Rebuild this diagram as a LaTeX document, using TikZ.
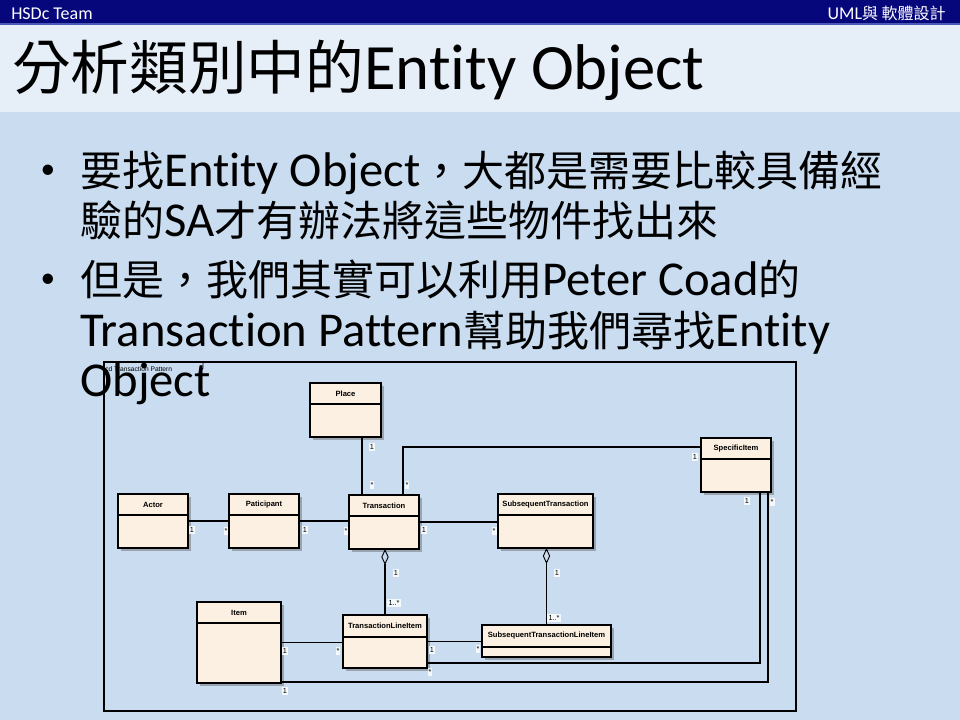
\documentclass[tikz,border=0pt]{standalone}
\usepackage{fontspec}
\setmainfont{Carlito}[Ligatures=CommonOff]
\newfontfamily\cjk{Noto Sans CJK TC}
\newfontfamily\umlfont{Liberation Sans}
\usetikzlibrary{arrows.meta}
\definecolor{bgblue}{HTML}{C9DCF0}
\definecolor{band}{HTML}{E6EFF8}
\definecolor{navy}{HTML}{07077C}
\definecolor{navyedge}{HTML}{4A5AB8}
\definecolor{cream}{HTML}{FBF0E1}
\definecolor{shadowc}{HTML}{9AA4B0}
\newcommand{\cjT}[1]{{\cjk\fontsize{44}{50}\selectfont #1}}
\newcommand{\cjB}[1]{{\cjk\fontsize{31.5}{38}\selectfont #1}}
\newcommand{\cjH}[1]{{\cjk\fontsize{12}{14}\selectfont #1}}
\tikzset{
  classbox/.style={draw=black, line width=0.9pt, fill=cream, inner sep=0pt, outer sep=0pt},
  cname/.style={font=\umlfont\bfseries\fontsize{5.7}{6}\selectfont, inner sep=0pt},
  mult/.style={font=\umlfont\fontsize{5.5}{6}\selectfont, fill=white, fill opacity=0.85, text opacity=1, inner sep=0.8pt},
  conn/.style={draw=black, line width=0.8pt},
  agg/.style={conn, -{Diamond[open, width=5.5pt, length=12pt, line width=0.7pt]}},
  bullettext/.style={font=\fontsize{36.5}{40}\selectfont, anchor=base west, inner sep=0pt},
}
% #1 name, #2 x1, #3 y1, #4 x2, #5 y2, #6 y divider, #7 label
\newcommand{\umlbox}[7]{%
  \fill[shadowc] (#2+2.5,#3+2.5) rectangle (#4+2.5,#5+2.5);
  \node[classbox, minimum width={(#4-#2)*0.75pt}, minimum height={(#5-#3)*0.75pt}]
     (#1) at ({(#2+#4)/2},{(#3+#5)/2}) {};
  \draw[line width=0.8pt] (#2,#6) -- (#4,#6);
  \node[cname] (#1-label) at ({(#2+#4)/2},{(#3+#6)/2}) {#7};
}
\begin{document}
\begin{tikzpicture}[x=0.75pt,y=-0.75pt]
\useasboundingbox (0,0) rectangle (960,720);
% background
\fill[bgblue] (0,0) rectangle (960,720);
\fill[band] (0,24) rectangle (960,112);
\fill[navy] (0,0) rectangle (960,24);
\draw[navyedge, line width=1pt] (0,24) -- (960,24);
\node[font=\fontsize{13.5}{15}\selectfont, text=white, anchor=base west, inner sep=0pt] (team) at (11,20) {HSDc Team};
\node[font=\fontsize{13.5}{15}\selectfont, text=white, anchor=base east, inner sep=0pt] (course) at (946,20) {UML\cjH{與 軟體設計}};

% UML diagram frame
\draw[line width=0.8pt] (104,362) rectangle (796,711);
\draw[line width=0.7pt] (203,362) -- (203,368) -- (200,372);
\node[font=\umlfont\fontsize{5}{6}\selectfont, anchor=west, inner sep=0pt] (frame-label) at (105,369) {cd Transaction Pattern};

% classes
\umlbox{place}{310}{383}{381}{437}{404}{Place}
\umlbox{actor}{118}{494}{188}{548}{515}{Actor}
\umlbox{part}{229}{494}{299}{548}{515}{Paticipant}
\umlbox{trans}{349}{495}{419}{549}{516}{Transaction}
\umlbox{subtr}{498}{494}{593}{548}{515}{SubsequentTransaction}
\umlbox{spec}{701}{438}{771}{492}{459}{SpecificItem}
\umlbox{item}{197}{602}{281}{683}{623}{Item}
\umlbox{tli}{343}{615}{427}{668}{637}{TransactionLineItem}
\umlbox{stli}{482}{625}{611}{657}{647}{SubsequentTransactionLineItem}

% connectors
\draw[conn] (actor.east) -- (part.west);
\draw[conn] (part.east) -- (part.east -| trans.west);
\draw[conn] (trans.east) -- (trans.east -| subtr.west);
\path (trans.north west) ++(13,0) coordinate (tp);
\draw[conn] (tp) -- (tp |- place.south);
\path (trans.north west) ++(54,0) coordinate (ts);
\path (spec.north west) ++(0,9) coordinate (sw);
\draw[conn] (ts) |- (sw);
\draw[agg] (tli.north) -- (tli.north |- trans.south);
\draw[agg] (stli.north) -- (stli.north |- subtr.south);
\draw[conn] (item.east) -- (item.east -| tli.west);
\draw[conn] (tli.east) -- (tli.east -| stli.west);
\path (tli.south east) ++(0,-5) coordinate (tl2);
\path (spec.south west) ++(59,0) coordinate (sp1);
\draw[conn] (tl2) -| (sp1);
\path (item.south east) ++(0,-1) coordinate (it2);
\path (spec.south east) ++(-3,0) coordinate (sp2);
\draw[conn] (it2) -| (sp2);

% multiplicities
\node[mult] at (192,530) {1};
\node[mult] at (226,531) {*};
\node[mult] at (305,530) {1};
\node[mult] at (346,531) {*};
\node[mult] at (372,447) {1};
\node[mult] at (372,485) {*};
\node[mult] at (407,485) {*};
\node[mult] at (695,457) {1};
\node[mult] at (424,530) {1};
\node[mult] at (494,531) {*};
\node[mult] at (396,573) {1};
\node[mult] at (394,603) {1..*};
\node[mult] at (557,573) {1};
\node[mult] at (554,618) {1..*};
\node[mult] at (285,651) {1};
\node[mult] at (338,651) {*};
\node[mult] at (432,650) {1};
\node[mult] at (478,649) {*};
\node[mult] at (430,672) {*};
\node[mult] at (747,501) {1};
\node[mult] at (285,691) {1};
\node[mult] at (772,502) {*};

% title
\node[font=\fontsize{48.5}{54}\selectfont, anchor=base west, inner sep=0pt] (title) at (12,90) {\cjT{分析類別中的}Entity Object};

% bullets
\node[font=\fontsize{22}{22}\selectfont, inner sep=0pt] (b1) at (48,172) {•};
\node[font=\fontsize{22}{22}\selectfont, inner sep=0pt] (b2) at (48,281) {•};
\node[bullettext] (l1) at (80,187) {\cjB{要找}Entity Object\cjB{，大都是需要比較具備經}};
\node[bullettext] (l2) at (80,237) {\cjB{驗的}SA\cjB{才有辦法將這些物件找出來}};
\node[bullettext] (l3) at (80,296) {\cjB{但是，我們其實可以利用}Peter Coad\cjB{的}};
\node[bullettext] (l4) at (80,346) {Transaction Pattern\cjB{幫助我們尋找}Entity};
\node[bullettext] (l5) at (80,396) {Object};
\end{tikzpicture}
\end{document}
